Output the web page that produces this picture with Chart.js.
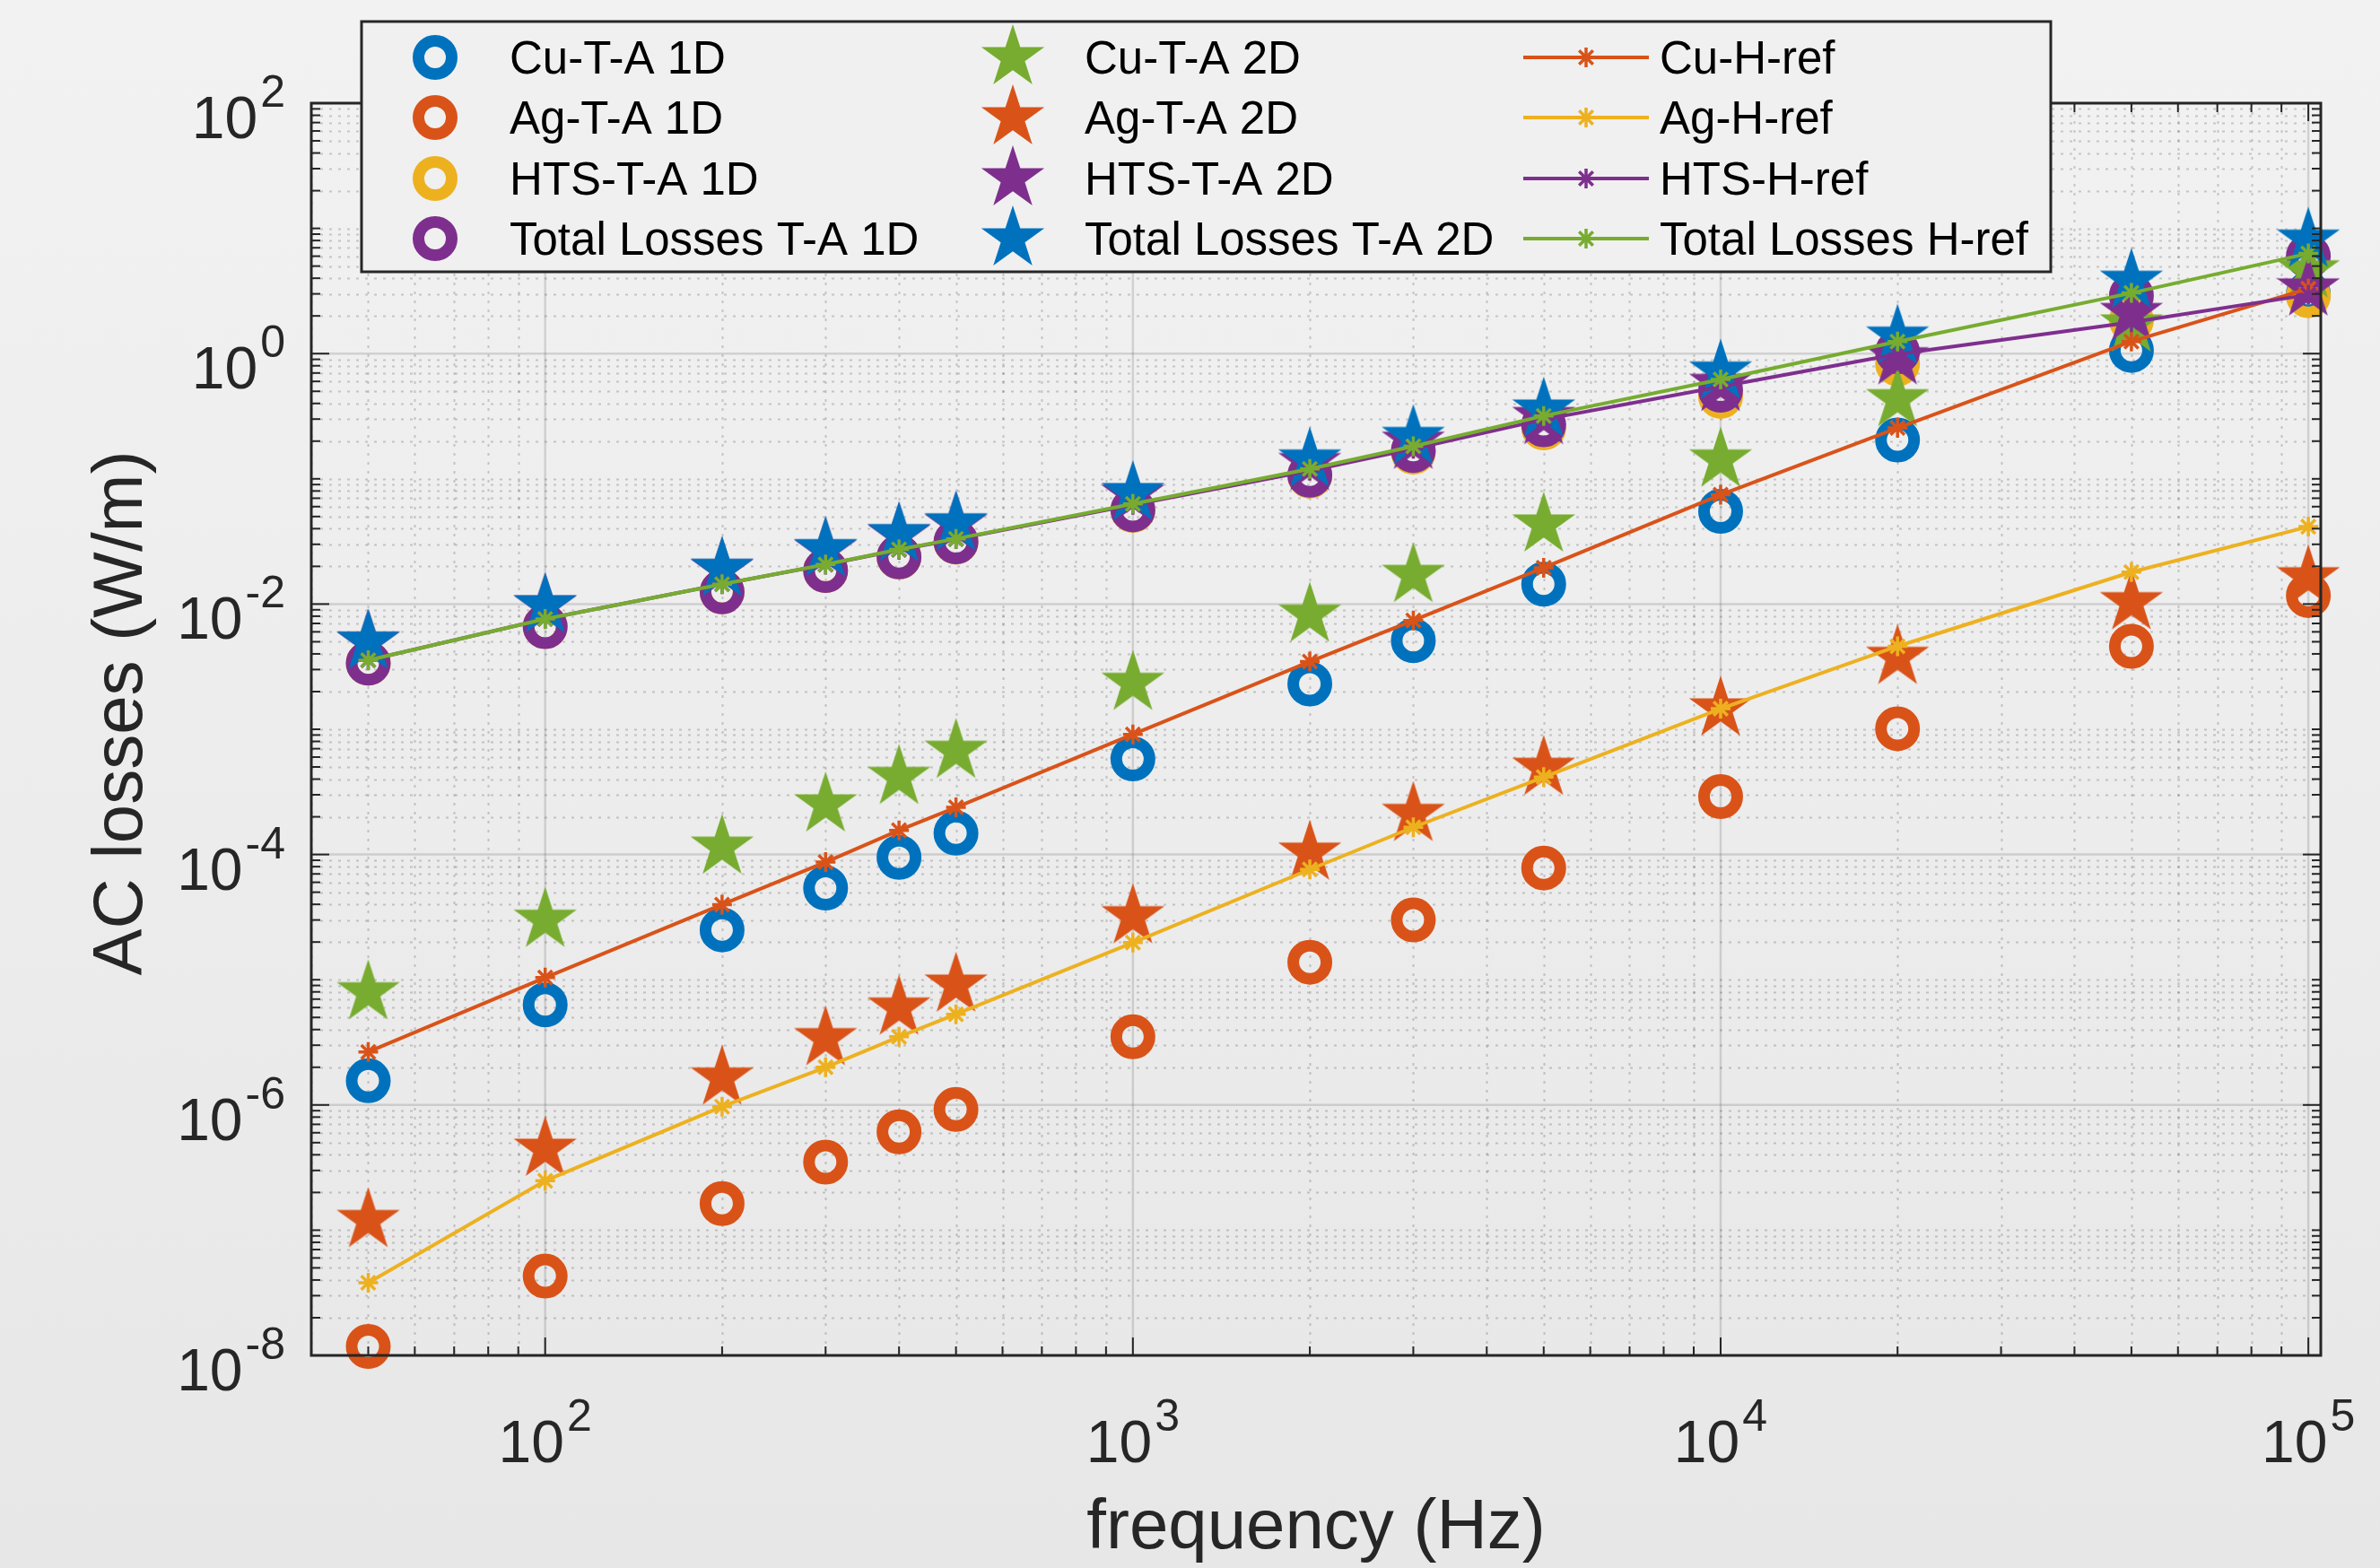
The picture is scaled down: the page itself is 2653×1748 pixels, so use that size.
<!DOCTYPE html>
<html>
<head>
<meta charset="utf-8">
<script src="https://cdn.jsdelivr.net/npm/chart.js@4.4.1/dist/chart.umd.min.js"></script>
<style>
  html, body { margin: 0; padding: 0; }
  body { width: 2653px; height: 1748px; overflow: hidden; background: linear-gradient(#f2f2f2, #e7e7e7); }
  canvas { display: block; }
</style>
</head>
<body>
<canvas id="myChart" width="2653" height="1748"></canvas>
<script>
// frequencies (Hz)
const freq = [50, 100, 200, 300, 400, 500, 1000, 2000, 3000, 5000, 10000, 20000, 50000, 100000];

// T-A 1D (circles)
const cuTA1D = [1.56e-6, 6.3e-6, 2.5e-5, 5.4e-5, 9.5e-5, 1.48e-4, 5.8e-4, 2.3e-3, 5.1e-3, 0.0144, 0.055, 0.204, 1.06, 3.0];
const agTA1D = [1.18e-8, 4.3e-8, 1.63e-7, 3.5e-7, 6.1e-7, 9.2e-7, 3.5e-6, 1.38e-5, 3.0e-5, 7.8e-5, 2.9e-4, 1.01e-3, 4.6e-3, 0.0117];
const htsTA1D = [3.37e-3, 6.6e-3, 0.0125, 0.0185, 0.0237, 0.0312, 0.0559, 0.105, 0.163, 0.255, 0.455, 0.83, 1.85, 2.9];
const totTA1D = [3.37e-3, 6.6e-3, 0.0125, 0.0185, 0.0238, 0.0314, 0.0565, 0.107, 0.168, 0.27, 0.51, 1.03, 2.9, 6.0];

// T-A 2D (stars)
const cuTA2D = [7.9e-6, 3.0e-5, 1.15e-4, 2.5e-4, 4.15e-4, 6.7e-4, 2.34e-3, 8.2e-3, 0.017, 0.043, 0.142, 0.43, 1.7, 4.6];
const agTA2D = [1.2e-7, 4.45e-7, 1.65e-6, 3.4e-6, 5.97e-6, 9.1e-6, 3.2e-5, 1.03e-4, 2.1e-4, 4.9e-4, 1.46e-3, 3.77e-3, 0.0103, 0.0163];
const htsTA2D = [4.97e-3, 9.7e-3, 0.0189, 0.027, 0.0356, 0.0432, 0.074, 0.133, 0.197, 0.31, 0.57, 0.93, 2.1, 3.3];
const totTA2D = [4.98e-3, 9.7e-3, 0.019, 0.0273, 0.036, 0.0439, 0.0767, 0.142, 0.215, 0.356, 0.716, 1.36, 3.8, 8.1];

// H-ref (lines with asterisks)
const cuHref = [2.65e-6, 1.04e-5, 3.98e-5, 8.7e-5, 1.56e-4, 2.38e-4, 9.1e-4, 3.47e-3, 7.4e-3, 0.0195, 0.0746, 0.255, 1.25, 3.3];
const agHref = [3.8e-8, 2.48e-7, 9.7e-7, 2.0e-6, 3.5e-6, 5.3e-6, 1.98e-5, 7.6e-5, 1.65e-4, 4.15e-4, 1.46e-3, 4.6e-3, 0.018, 0.0415];
const htsHref = [3.56e-3, 7.6e-3, 0.0144, 0.0206, 0.0271, 0.033, 0.062, 0.116, 0.174, 0.298, 0.545, 0.99, 1.78, 2.95];
const totHref = [3.56e-3, 7.6e-3, 0.0144, 0.0207, 0.0273, 0.0332, 0.063, 0.12, 0.182, 0.318, 0.622, 1.25, 3.05, 6.3];

// axis tick labels (exponents)
const xTickExp = [2, 3, 4, 5];
const yTickExp = [-8, -6, -4, -2, 0, 2];

const BLUE = "#0072BD", ORANGE = "#D95319", YELLOW = "#EDB120", PURPLE = "#7E2F8E", GREEN = "#77AC30";
const FONT = "'Liberation Sans', Arial, Helvetica, sans-serif";
const STAR_R = 37;

function pts(values) {
  return values.map(function (v, i) { return { x: freq[i], y: v }; });
}

// filled pentagram as a canvas so chart.js can use it as pointStyle
function starImg(color, R) {
  const c = document.createElement("canvas");
  c.width = c.height = Math.ceil(2 * R + 4);
  const g = c.getContext("2d");
  const cx = c.width / 2, cy = c.height / 2, r = R * 0.382;
  g.beginPath();
  for (let k = 0; k < 10; k++) {
    const rad = k % 2 === 0 ? R : r;
    const a = (-90 + 36 * k) * Math.PI / 180;
    const px = cx + rad * Math.cos(a), py = cy + rad * Math.sin(a);
    if (k === 0) g.moveTo(px, py); else g.lineTo(px, py);
  }
  g.closePath();
  g.fillStyle = color;
  g.fill();
  return c;
}

function circleSet(label, values, color) {
  return { label: label, data: pts(values), showLine: false, clip: false, kind: "circle",
    pointStyle: "circle", pointRadius: 18.5, pointBorderWidth: 13,
    pointBorderColor: color, pointBackgroundColor: "rgba(0,0,0,0)", borderColor: color };
}
function starSet(label, values, color) {
  return { label: label, data: pts(values), showLine: false, clip: false, kind: "star",
    pointStyle: starImg(color, STAR_R), pointRadius: STAR_R, borderColor: color };
}
function lineSet(label, values, color) {
  return { label: label, data: pts(values), showLine: true, clip: false, kind: "line",
    borderColor: color, borderWidth: 4, tension: 0, fill: false,
    pointStyle: "star", pointRadius: 11, pointBorderWidth: 3.5, pointBorderColor: color, pointBackgroundColor: color };
}

const datasets = [
  circleSet("Cu-T-A 1D", cuTA1D, BLUE),
  circleSet("Ag-T-A 1D", agTA1D, ORANGE),
  circleSet("HTS-T-A 1D", htsTA1D, YELLOW),
  circleSet("Total Losses T-A 1D", totTA1D, PURPLE),
  starSet("Cu-T-A 2D", cuTA2D, GREEN),
  starSet("Ag-T-A 2D", agTA2D, ORANGE),
  starSet("HTS-T-A 2D", htsTA2D, PURPLE),
  starSet("Total Losses T-A 2D", totTA2D, BLUE),
  lineSet("Cu-H-ref", cuHref, ORANGE),
  lineSet("Ag-H-ref", agHref, YELLOW),
  lineSet("HTS-H-ref", htsHref, PURPLE),
  lineSet("Total Losses H-ref", totHref, GREEN),
];
// matlab order: first plotted sits at the bottom
datasets.forEach(function (d, i) { d.order = datasets.length - i; });

function drawPow(ctx, exp, x, y, align, baseShift, supShift) {
  const baseFont = "66px " + FONT, supFont = "50px " + FONT;
  ctx.font = baseFont;
  const bw = ctx.measureText("10").width;
  ctx.font = supFont;
  const s = String(exp);
  const sw = ctx.measureText(s).width;
  const gap = 3;
  const total = bw + gap + sw;
  let left = align === "right" ? x - total : x - total / 2;
  ctx.textAlign = "left";
  ctx.textBaseline = "alphabetic";
  ctx.fillStyle = "#262626";
  ctx.font = baseFont;
  ctx.fillText("10", left, y + baseShift);
  ctx.font = supFont;
  ctx.fillText(s, left + bw + gap, y + supShift);
}

const matlabAxes = {
  id: "matlabAxes",
  beforeDatasetsDraw(chart) {
    const ctx = chart.ctx, a = chart.chartArea;
    const xs = chart.scales.x, ys = chart.scales.y;
    ctx.save();
    // minor grid (dotted)
    ctx.lineWidth = 2;
    ctx.strokeStyle = "rgba(0,0,0,0.18)";
    ctx.setLineDash([3, 7]);
    for (let n = 1; n <= 5; n++) {
      for (let k = 1; k <= 9; k++) {
        const v = k * Math.pow(10, n);
        if (k === 1 || v < xs.min || v > xs.max) continue;
        const px = Math.round(xs.getPixelForValue(v)) + 0.5;
        ctx.beginPath(); ctx.moveTo(px, a.top); ctx.lineTo(px, a.bottom); ctx.stroke();
      }
    }
    for (let n = -8; n <= 1; n++) {
      for (let k = 1; k <= 9; k++) {
        if (k === 1 && n % 2 === 0) continue;
        const py = Math.round(ys.getPixelForValue(k * Math.pow(10, n))) + 0.5;
        ctx.beginPath(); ctx.moveTo(a.left, py); ctx.lineTo(a.right, py); ctx.stroke();
      }
    }
    // major grid (solid)
    ctx.setLineDash([]);
    ctx.strokeStyle = "rgba(0,0,0,0.13)";
    ctx.lineWidth = 2.5;
    xTickExp.forEach(function (e) {
      const px = xs.getPixelForValue(Math.pow(10, e));
      ctx.beginPath(); ctx.moveTo(px, a.top); ctx.lineTo(px, a.bottom); ctx.stroke();
    });
    yTickExp.forEach(function (e) {
      const py = ys.getPixelForValue(Math.pow(10, e));
      ctx.beginPath(); ctx.moveTo(a.left, py); ctx.lineTo(a.right, py); ctx.stroke();
    });
    ctx.restore();
  },
  afterDatasetsDraw(chart) {
    const ctx = chart.ctx, a = chart.chartArea;
    const xs = chart.scales.x, ys = chart.scales.y;
    ctx.save();
    ctx.strokeStyle = "#262626";
    // ticks pointing inward on all four sides
    ctx.lineWidth = 2;
    function xTick(v, len) {
      const px = xs.getPixelForValue(v);
      ctx.beginPath(); ctx.moveTo(px, a.bottom); ctx.lineTo(px, a.bottom - len); ctx.stroke();
      ctx.beginPath(); ctx.moveTo(px, a.top); ctx.lineTo(px, a.top + len); ctx.stroke();
    }
    function yTick(v, len) {
      const py = ys.getPixelForValue(v);
      ctx.beginPath(); ctx.moveTo(a.left, py); ctx.lineTo(a.left + len, py); ctx.stroke();
      ctx.beginPath(); ctx.moveTo(a.right, py); ctx.lineTo(a.right - len, py); ctx.stroke();
    }
    for (let n = 1; n <= 5; n++) {
      for (let k = 2; k <= 9; k++) {
        const v = k * Math.pow(10, n);
        if (v >= xs.min && v <= xs.max) xTick(v, 10);
      }
    }
    xTickExp.forEach(function (e) { xTick(Math.pow(10, e), 20); });
    for (let n = -8; n <= 1; n++) {
      for (let k = 1; k <= 9; k++) {
        if (k === 1 && n % 2 === 0) continue;
        yTick(k * Math.pow(10, n), 10);
      }
    }
    yTickExp.forEach(function (e) { yTick(Math.pow(10, e), 20); });
    // axes box
    ctx.lineWidth = 3;
    ctx.strokeRect(a.left, a.top, a.right - a.left, a.bottom - a.top);

    // tick labels
    xTickExp.forEach(function (e) {
      drawPow(ctx, e, xs.getPixelForValue(Math.pow(10, e)), a.bottom, "center", 119, 84);
    });
    yTickExp.forEach(function (e) {
      drawPow(ctx, e, a.left - 29, ys.getPixelForValue(Math.pow(10, e)), "right", 39, 4);
    });

    // axis titles
    ctx.fillStyle = "#262626";
    ctx.font = "78px " + FONT;
    ctx.textAlign = "center";
    ctx.textBaseline = "alphabetic";
    ctx.fillText("frequency (Hz)", (a.left + a.right) / 2, 1726);
    ctx.save();
    ctx.translate(158, 795);
    ctx.rotate(-Math.PI / 2);
    ctx.fillText("AC losses (W/m)", 0, 0);
    ctx.restore();

    // legend, 3 columns filled top to bottom
    const box = { left: 403, top: 24, right: 2286, bottom: 303 };
    ctx.fillStyle = "#f0f0f0";
    ctx.fillRect(box.left, box.top, box.right - box.left, box.bottom - box.top);
    ctx.strokeStyle = "#262626";
    ctx.lineWidth = 3;
    ctx.strokeRect(box.left, box.top, box.right - box.left, box.bottom - box.top);
    const rows = [64, 131, 199, 266];
    const cols = [
      { mark: 485, text: 568 },
      { mark: 1129, text: 1209 },
      { mark: 1768, text: 1850, l0: 1698, l1: 1838 },
    ];
    chart.data.datasets.forEach(function (d, i) {
      const c = cols[Math.floor(i / 4)], y = rows[i % 4];
      const color = d.borderColor;
      if (d.kind === "circle") {
        ctx.strokeStyle = color; ctx.lineWidth = 13;
        ctx.beginPath(); ctx.arc(c.mark, y, 18.5, 0, Math.PI * 2); ctx.stroke();
      } else if (d.kind === "star") {
        const img = d.pointStyle;
        ctx.drawImage(img, c.mark - img.width / 2, y - img.height / 2);
      } else {
        ctx.strokeStyle = color; ctx.lineWidth = 4;
        ctx.beginPath(); ctx.moveTo(c.l0, y); ctx.lineTo(c.l1, y); ctx.stroke();
        ctx.lineWidth = 3.5;
        for (let k = 0; k < 4; k++) {
          const ang = k * Math.PI / 4;
          const dx = 11 * Math.cos(ang), dy = 11 * Math.sin(ang);
          ctx.beginPath(); ctx.moveTo(c.mark - dx, y - dy); ctx.lineTo(c.mark + dx, y + dy); ctx.stroke();
        }
      }
      ctx.fillStyle = "#000000";
      ctx.font = "51px " + FONT;
      ctx.textAlign = "left";
      ctx.textBaseline = "alphabetic";
      ctx.fillText(d.label, c.text, y + 18);
    });
    ctx.restore();
  },
};

const myChart = new Chart(document.getElementById("myChart").getContext("2d"), {
  type: "line",
  data: { datasets: datasets },
  plugins: [matlabAxes],
  options: {
    responsive: false,
    animation: false,
    events: [],
    devicePixelRatio: 1,
    layout: { padding: { left: 347, right: 66, top: 115, bottom: 237 } },
    plugins: { legend: { display: false }, tooltip: { enabled: false } },
    scales: {
      x: { type: "logarithmic", min: 40, max: 105000, display: false },
      y: { type: "logarithmic", min: 1e-8, max: 100, display: false },
    },
  },
});
</script>
</body>
</html>
